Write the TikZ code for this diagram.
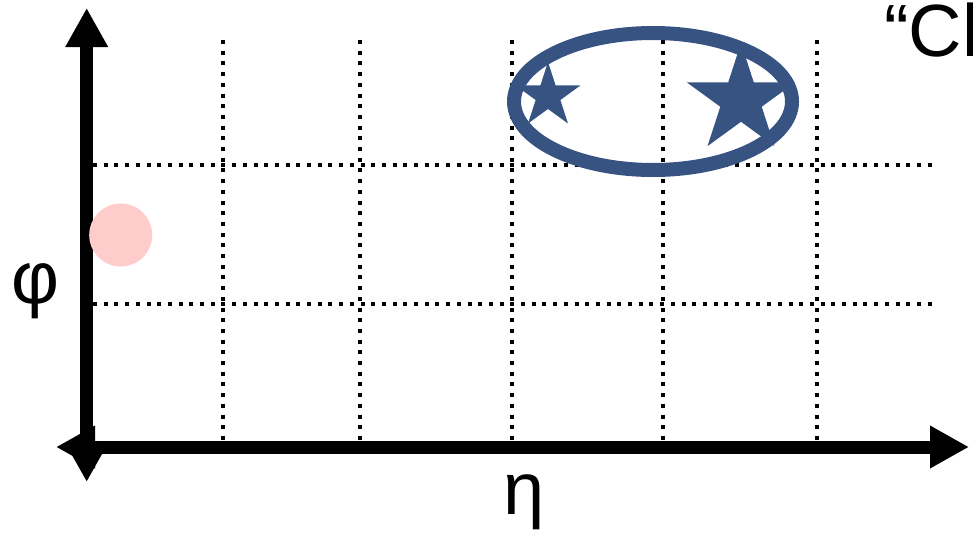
\documentclass[tikz,border=0pt]{standalone}
\usepackage{fontspec}
\setmainfont{Liberation Sans}
\usetikzlibrary{arrows.meta,shapes.geometric}
\definecolor{clusterblue}{RGB}{54,83,130}
\definecolor{hitpink}{RGB}{255,204,204}
\tikzset{
  gridline/.style={line width=4pt, dash pattern=on 4pt off 6.7pt, black},
  axisline/.style={line width=13pt, black, {Triangle[length=39pt,width=40pt]}-{Triangle[length=39pt,width=40pt]}},
  bigtext/.style={inner sep=0pt, font=\fontsize{74}{80}\selectfont},
  starmark/.style={star, star points=5, star point ratio=2.618, inner sep=0pt, fill=clusterblue, draw=none},
}
\begin{document}
\begin{tikzpicture}[x=1pt,y=-1pt]
\useasboundingbox (0,0) rectangle (973,533);
% grid
\foreach \gx in {223.3,360,511.7,663.3,817}{
  \draw[gridline] (\gx,40) -- (\gx,440);
}
\foreach \gy in {164.5,304}{
  \draw[gridline] (93,\gy) -- (936,\gy);
}
% axes
\coordinate (ybot) at (86.7,482);
\coordinate (ytop) at (86.7,8);
\coordinate (xleft) at (56,447);
\coordinate (xright) at (969,447);
\draw[axisline] (ybot) -- (ytop);
\draw[axisline] (xleft) -- (xright);
% hit
\node[circle, fill=hitpink, minimum size=63pt, inner sep=0pt] (hit) at (120.7,235) {};
% cluster
\node[ellipse, draw=clusterblue, line width=14pt, minimum width=278pt, minimum height=137pt, inner sep=0pt] (cluster) at (653,101.5) {};
\node[starmark, minimum size=68pt] (smallstar) at (548,96) {};
\node[starmark, minimum size=114pt] (bigstar) at (741,100) {};
% labels
\node[bigtext, anchor=base] (phi) at (35,303) {φ};
\node[bigtext, anchor=base] (eta) at (524.5,514) {η};
\node[bigtext, anchor=base west] (cl) at (884,56) {“Cl};
\end{tikzpicture}
\end{document}
